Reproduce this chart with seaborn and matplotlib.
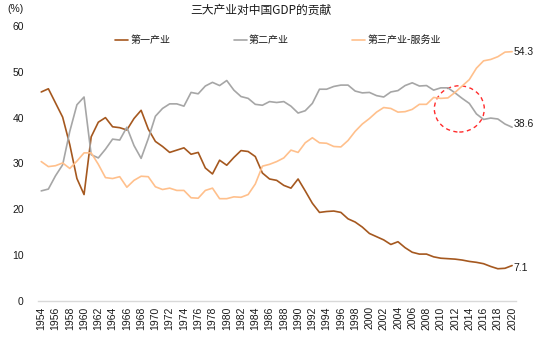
import matplotlib
matplotlib.use("Agg")
import matplotlib.pyplot as plt
import seaborn as sns
import pandas as pd
from matplotlib.patches import Ellipse

years = list(range(1954, 2021))
primary = [45.6, 46.3, 43.2, 40.1, 34.1, 26.7, 23.2, 35.8, 39.0, 40.0,
           38.0, 37.8, 37.3, 39.8, 41.6, 37.5, 34.8, 33.7, 32.4, 32.9,
           33.4, 32.0, 32.4, 29.0, 27.7, 30.7, 29.6, 31.3, 32.8, 32.6,
           31.5, 27.9, 26.6, 26.3, 25.2, 24.6, 26.6, 24.0, 21.3, 19.3,
           19.5, 19.6, 19.3, 17.9, 17.2, 16.1, 14.7, 14.0, 13.3, 12.3,
           12.9, 11.6, 10.6, 10.2, 10.2, 9.6, 9.3, 9.2, 9.1, 8.9,
           8.6, 8.4, 8.1, 7.5, 7.0, 7.1, 7.7]
secondary = [24.0, 24.4, 27.3, 29.7, 37.0, 42.8, 44.5, 31.9, 31.2, 33.1,
             35.3, 35.1, 37.9, 33.9, 31.1, 35.4, 40.3, 42.0, 43.0, 43.0,
             42.5, 45.5, 45.2, 46.9, 47.7, 47.0, 48.1, 46.0, 44.6, 44.2,
             42.9, 42.7, 43.5, 43.3, 43.5, 42.5, 41.0, 41.5, 43.1, 46.2,
             46.2, 46.8, 47.1, 47.1, 45.8, 45.4, 45.5, 44.8, 44.5, 45.6,
             45.9, 47.0, 47.6, 46.9, 47.0, 46.0, 46.5, 46.5, 45.4, 44.2,
             43.1, 40.8, 39.6, 39.9, 39.7, 38.6, 37.9]
tertiary = [30.4, 29.3, 29.5, 30.1, 28.9, 30.5, 32.3, 32.3, 29.8, 26.9,
            26.7, 27.1, 24.8, 26.3, 27.2, 27.1, 24.9, 24.3, 24.6, 24.1,
            24.1, 22.5, 22.4, 24.1, 24.6, 22.3, 22.3, 22.7, 22.6, 23.2,
            25.5, 29.4, 29.8, 30.4, 31.2, 32.9, 32.4, 34.5, 35.6, 34.5,
            34.4, 33.7, 33.6, 35.0, 37.0, 38.6, 39.8, 41.2, 42.2, 42.0,
            41.2, 41.3, 41.8, 42.9, 42.9, 44.4, 44.2, 44.3, 45.5, 46.9,
            48.3, 50.8, 52.4, 52.7, 53.3, 54.3, 54.4]
series_names = ["第一产业", "第二产业", "第三产业-服务业"]
end_labels = ["7.1", "38.6", "54.3"]
end_label_values = [7.1, 38.6, 54.3]
colors = ["#A5581F", "#A6A6A6", "#FFC08C"]

df = pd.DataFrame({"year": years, series_names[0]: primary,
                   series_names[1]: secondary, series_names[2]: tertiary})
long = df.melt(id_vars="year", var_name="产业", value_name="share")

sns.set_theme(style="white")
plt.rcParams["font.family"] = ["Liberation Sans", "Noto Sans CJK SC", "DejaVu Sans"]
txt = "#1a1a1a"

fig = plt.figure(figsize=(5.5, 3.37), dpi=100)
ax = fig.add_axes([0.0685, 0.1074, 0.8691, 0.8154])

sns.lineplot(data=long, x="year", y="share", hue="产业", hue_order=series_names,
             palette=colors, linewidth=1.2, ax=ax, legend=True)

for name, lab, val, c in zip(series_names, end_labels, end_label_values, colors):
    ax.text(years[-1] + 0.2, val, lab, ha="left", va="center", fontsize=7.5,
            color=txt)

ell = Ellipse((2012.6, 41.9), width=7.0, height=10.1, fill=False,
              edgecolor="#FF2B2B", linestyle=(0, (3, 2.5)), linewidth=1.0)
ax.add_patch(ell)

ax.set_xlim(1953.5, 2020.5)
ax.set_ylim(0, 60)
ax.set_xticks(years[::2])
ax.set_xticklabels([str(y) for y in years[::2]], rotation=90, fontsize=7.5)
ax.set_yticks(range(0, 61, 10))
ax.tick_params(axis="y", labelsize=7.5, length=0, pad=10, labelcolor=txt)
ax.tick_params(axis="x", length=0, pad=4, labelcolor=txt)
ax.set_xlabel("")
ax.set_ylabel("")
for s in ["top", "right", "left"]:
    ax.spines[s].set_visible(False)
ax.spines["bottom"].set_color("#D9D9D9")
ax.spines["bottom"].set_linewidth(1.0)

handles, labels = ax.get_legend_handles_labels()
ax.get_legend().remove()
leg = fig.legend(handles, labels, loc="center", bbox_to_anchor=(278 / 550, 1 - 40 / 337),
                 ncol=3, frameon=False, handlelength=1.3, handletextpad=0.25,
                 columnspacing=6.3, prop={"family": ["Noto Sans CJK SC"], "size": 7.2})
for t in leg.get_texts():
    t.set_color(txt)

fig.text(261 / 550, 1 - 10 / 337, "三大产业对中国GDP的贡献", ha="center", va="center",
         fontsize=8.5, family=["Noto Sans CJK SC", "DejaVu Sans"], color=txt)
fig.text(15 / 550, 1 - 9 / 337, "(%)", ha="center", va="center", fontsize=7.5,
         color=txt)

fig.savefig("out.png", dpi=100)
